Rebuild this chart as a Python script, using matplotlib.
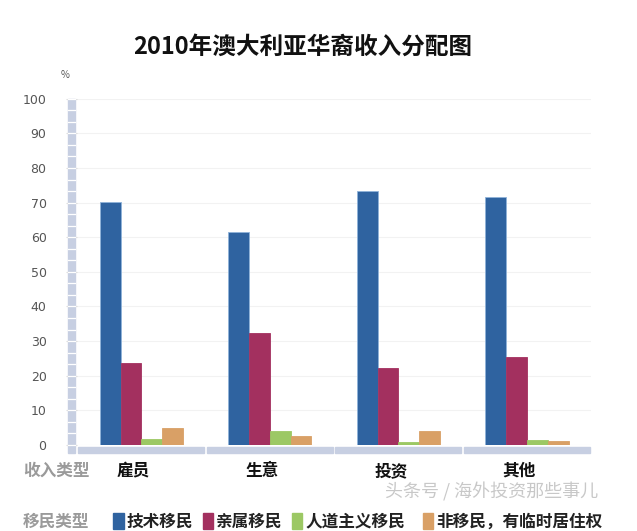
import matplotlib.pyplot as plt
from matplotlib.patches import Rectangle
import numpy as np

plt.rcParams['font.family'] = ['Noto Sans CJK SC', 'DejaVu Sans']

# data (%)
categories = ['雇员', '生意', '投资', '其他']
series = ['技术移民', '亲属移民', '人道主义移民', '非移民，有临时居住权']
skilled = [70.2, 61.6, 73.4, 71.7]
family = [23.7, 32.4, 22.3, 25.4]
humanitarian = [1.7, 4.0, 1.0, 1.5]
non_migrant = [4.9, 2.6, 4.0, 1.2]
colors = ['#2f63a0', '#a3305f', '#9cc864', '#d9a066']

fig = plt.figure(figsize=(6.37, 5.31), dpi=100)
ax = fig.add_axes([0.121, 0.162, 0.807, 0.652])

x = np.arange(len(categories))
w = 0.162
for i, vals in enumerate([skilled, family, humanitarian, non_migrant]):
    ax.bar(x + (i - 1.5) * w, vals, width=w, color=colors[i],
           edgecolor='#8fb3d9' if i == 0 else colors[i], linewidth=0.6, zorder=3)

ax.set_xlim(-0.5, 3.5)
ax.set_ylim(0, 100)
ax.set_yticks(range(0, 101, 10))
ax.set_yticklabels([str(v) for v in range(0, 101, 10)], color='#555555', fontsize=9,
                   family=['DejaVu Sans'])
ax.tick_params(axis='y', length=8, color='#dddddd', pad=14)
ax.set_xticks([])
for s in ax.spines.values():
    s.set_visible(False)
ax.grid(axis='y', color='#f2f2f2', linewidth=0.8, zorder=0)

# ruler-like vertical bar left of the plot
trans = ax.get_yaxis_transform()
ax.add_patch(Rectangle((-0.018, -2.4), 0.014, 102.4, transform=trans,
                       color='#c7cfe2', clip_on=False, zorder=1))
for yv in np.arange(0, 100.1, 10 / 3):
    ax.plot([-0.018, -0.004], [yv, yv], transform=trans, color='white',
            lw=0.9, clip_on=False, zorder=2)

# horizontal gray base segments under each category
for xi in x:
    ax.add_patch(Rectangle((xi - 0.49, -2.4), 0.98, 1.8, color='#c7cfe2',
                           clip_on=False, zorder=1))

fig.text(0.475, 0.912, '2010年澳大利亚华裔收入分配图', ha='center', va='center',
         fontsize=17, fontweight='bold', color='#111111')
fig.text(0.102, 0.858, '%', ha='center', va='center', fontsize=7, color='#555555')

# category row
fig.text(0.036, 0.113, '收入类型', ha='left', va='center', fontsize=12,
         fontweight='bold', color='#9a9a9a')
for xi, c in zip(x, categories):
    xf = fig.transFigure.inverted().transform(ax.transData.transform((xi, 0)))[0]
    fig.text(xf - 0.012, 0.113, c, ha='center', va='center', fontsize=12,
             fontweight='bold', color='#111111')

# legend row
fig.text(0.036, 0.018, '移民类型', ha='left', va='center', fontsize=12,
         fontweight='bold', color='#9a9a9a')
lx = [0.178, 0.318, 0.458, 0.664]
for px, c, lab in zip(lx, colors, series):
    fig.patches.append(Rectangle((px, 0.004), 0.016, 0.03, color=c,
                                 transform=fig.transFigure, figure=fig))
    fig.text(px + 0.021, 0.018, lab, ha='left', va='center', fontsize=12,
             fontweight='bold', color='#222222')

fig.text(0.605, 0.074, '头条号 / 海外投资那些事儿', ha='left', va='center',
         fontsize=13, color='#bbbbbb', alpha=0.8)

fig.savefig('out.png', dpi=100, facecolor='white')
